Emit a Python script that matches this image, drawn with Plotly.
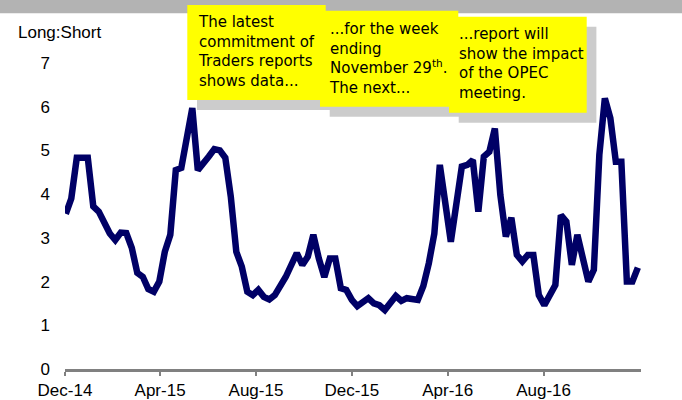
import plotly.graph_objects as go

# ---- data (weekly Commitment of Traders long:short ratio, vertices) ----
dates = [
    "2014-12-02", "2014-12-09", "2014-12-16", "2014-12-30", "2015-01-06", "2015-01-13",
    "2015-01-27", "2015-02-03", "2015-02-10", "2015-02-17", "2015-02-24", "2015-03-03",
    "2015-03-10", "2015-03-17", "2015-03-24", "2015-03-31", "2015-04-07", "2015-04-14",
    "2015-04-21", "2015-04-28", "2015-05-12", "2015-05-19", "2015-06-02", "2015-06-09",
    "2015-06-16", "2015-06-23", "2015-06-30", "2015-07-07", "2015-07-14", "2015-07-21",
    "2015-07-28", "2015-08-04", "2015-08-11", "2015-08-18", "2015-08-25", "2015-09-08",
    "2015-09-22", "2015-09-29", "2015-10-06", "2015-10-13", "2015-10-20", "2015-10-27",
    "2015-11-03", "2015-11-10", "2015-11-17", "2015-11-24", "2015-12-01", "2015-12-08",
    "2015-12-22", "2015-12-29", "2016-01-05", "2016-01-12", "2016-01-26", "2016-02-02",
    "2016-02-09", "2016-02-23", "2016-03-01", "2016-03-08", "2016-03-15", "2016-03-22",
    "2016-03-29", "2016-04-05", "2016-04-19", "2016-04-26", "2016-05-03", "2016-05-10",
    "2016-05-17", "2016-05-24", "2016-05-31", "2016-06-07", "2016-06-14", "2016-06-21",
    "2016-06-28", "2016-07-05", "2016-07-12", "2016-07-19", "2016-07-26", "2016-08-02",
    "2016-08-16", "2016-08-23", "2016-08-30", "2016-09-06", "2016-09-13", "2016-09-27",
    "2016-10-04", "2016-10-11", "2016-10-18", "2016-10-25", "2016-11-01", "2016-11-08",
    "2016-11-15", "2016-11-22", "2016-11-29",
]
long_short = [
    3.55, 3.90, 4.83, 4.83, 3.72, 3.60,
    3.10, 2.95, 3.12, 3.11, 2.77, 2.20,
    2.11, 1.83, 1.77, 2.00, 2.68, 3.07,
    4.55, 4.60, 5.97, 4.55, 4.86, 5.03,
    5.00, 4.83, 3.94, 2.68, 2.34, 1.77,
    1.69, 1.81, 1.65, 1.59, 1.69, 2.11,
    2.65, 2.38, 2.57, 3.07, 2.53, 2.10,
    2.53, 2.53, 1.85, 1.81, 1.58, 1.44,
    1.62, 1.50, 1.46, 1.35, 1.67, 1.56,
    1.62, 1.58, 1.90, 2.42, 3.10, 4.67,
    3.79, 2.91, 4.63, 4.67, 4.78, 3.60,
    4.86, 4.97, 5.50, 3.98, 3.03, 3.46,
    2.61, 2.46, 2.61, 2.61, 1.69, 1.46,
    1.92, 3.52, 3.37, 2.38, 3.07, 2.00,
    2.27, 4.90, 6.19, 5.74, 4.74, 4.74,
    2.00, 2.00, 2.32,
]

tick_dates = ["2014-12-01", "2015-04-01", "2015-08-01", "2015-12-01", "2016-04-01", "2016-08-01"]
tick_labels = ["Dec-14", "Apr-15", "Aug-15", "Dec-15", "Apr-16", "Aug-16"]
y_ticks = [0, 1, 2, 3, 4, 5, 6, 7]

axis_title = "Long:Short"
notes = [
    "The latest<br>commitment of<br>Traders reports<br>shows data...",
    "...for the week<br>ending<br>November 29<sup>th</sup>.<br>The next...",
    "...report will<br>show the impact<br>of the OPEC<br>meeting.",
]

# ---- layout geometry (pixels) ----
W_PX, H_PX = 682, 400
L, R, T, B = 65, 641, 63, 369


def px(x):
    return (x - L) / (R - L)


def py(y):
    return (B - y) / (B - T)


fig = go.Figure()
fig.add_trace(go.Scatter(
    x=dates, y=long_short, mode="lines",
    line=dict(color="#000066", width=6.5),
    hoverinfo="skip", showlegend=False,
))

shapes = []


def rect(x0, y0, x1, y1, color):
    shapes.append(dict(type="rect", xref="paper", yref="paper",
                       x0=px(x0), x1=px(x1), y0=py(y1), y1=py(y0),
                       fillcolor=color, line=dict(width=0), layer="below"))


# top grey band
rect(0, 0, W_PX, 13.3, "#b3b3b3")
# note boxes with drop shadows
boxes = [(187.3, 5.0, 325.7, 100.0), (320.0, 10.7, 458.3, 106.7), (449.0, 16.7, 586.7, 112.7)]
for (x0, y0, x1, y1) in boxes:
    rect(x0 + 9.7, y0 + 10, x1 + 9.7, y1 + 10, "#cccccc")
    rect(x0, y0, x1, y1, "#ffff00")

note_font = dict(family="DejaVu Sans, Comic Sans MS, sans-serif", size=15, color="#000000")
annotations = [
    dict(xref="paper", yref="paper", x=px(16), y=py(33), xanchor="left", yanchor="middle",
         text=axis_title, showarrow=False,
         font=dict(family="Liberation Sans, Arial, sans-serif", size=17, color="#000000")),
]
text_pos = [(195.5, 11.5), (326.8, 18.0), (456.5, 23.0)]
for (tx, ty), txt in zip(text_pos, notes):
    annotations.append(dict(xref="paper", yref="paper", x=px(tx), y=py(ty),
                            xanchor="left", yanchor="top", align="left",
                            text=txt, showarrow=False, font=note_font))

fig.update_layout(
    width=W_PX, height=H_PX,
    margin=dict(l=L, r=W_PX - R, t=T, b=H_PX - B, autoexpand=False),
    paper_bgcolor="#ffffff", plot_bgcolor="rgba(0,0,0,0)",
    shapes=shapes, annotations=annotations,
    font=dict(family="Liberation Sans, Arial, sans-serif", color="#000000"),
)
fig.update_xaxes(
    type="date", range=["2014-12-01", "2016-12-03"],
    tickvals=tick_dates, ticktext=tick_labels,
    ticks="outside", ticklen=4, tickwidth=2, tickcolor="#808080",
    showline=True, linecolor="#808080", linewidth=3,
    showgrid=False, zeroline=False, automargin=False,
    tickfont=dict(size=17, color="#000000"),
)
fig.update_yaxes(
    range=[0, 7], tickvals=y_ticks,
    showline=False, showgrid=False, zeroline=False, automargin=False,
    ticklabelstandoff=14,
    tickfont=dict(size=17, color="#000000"),
)

fig.write_html("out.html", config={"displayModeBar": False},
               post_script="document.body.style.margin='0';")
